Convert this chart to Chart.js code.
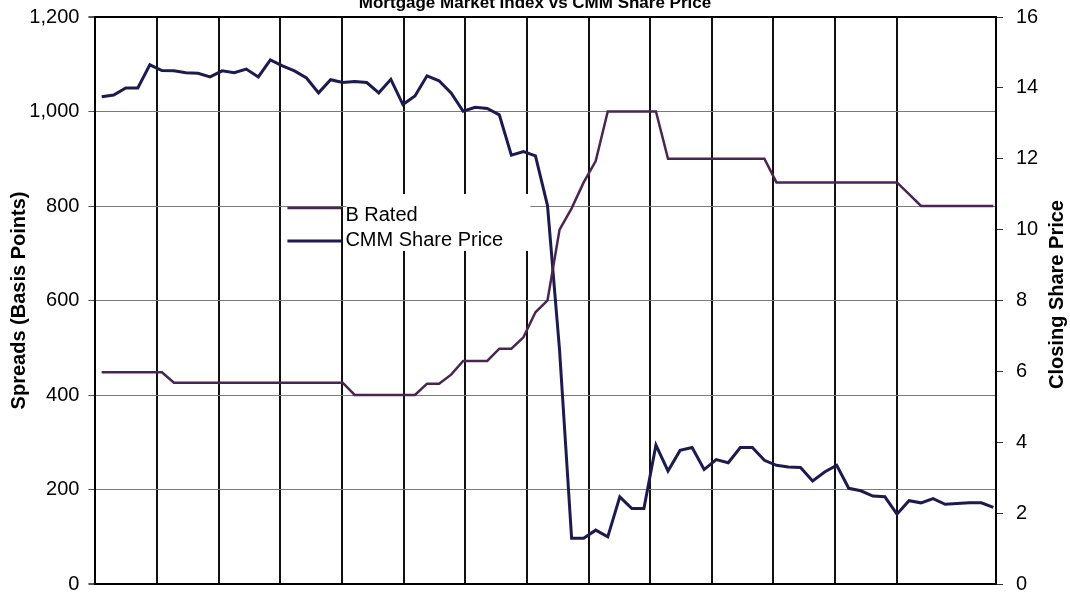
<!DOCTYPE html>
<html>
<head>
<meta charset="utf-8">
<title>B Rated spreads vs CMM share price</title>
<script src="https://cdn.jsdelivr.net/npm/chart.js@4.4.1/dist/chart.umd.min.js"></script>
<style>
  html, body { margin: 0; padding: 0; background: #fff; overflow: hidden; }
  /* the original scan cuts the chart title in half, so the canvas starts above the page */
  #wrap { position: absolute; left: 0; top: -8px; width: 1070px; height: 630px; }
</style>
</head>
<body>
<div id="wrap"><canvas id="spread-chart"></canvas></div>
<script>
document.addEventListener('DOMContentLoaded', () => {

    const chartTitle = 'Mortgage Market Index vs CMM Share Price';
    const seriesNames = ['B Rated', 'CMM Share Price'];
    const axisTitles = ['Spreads (Basis Points)', 'Closing Share Price'];

    // weekly B rated spreads in basis points (left axis)
    const bRatedSpread = [
        448, 448, 448, 448, 448, 448,
        426, 426, 426, 426, 426, 426, 426, 426, 426, 426, 426, 426, 426, 426, 426,
        400, 400, 400, 400, 400, 400,
        424, 424, 443, 472, 472, 472, 498, 498, 522, 575, 600,
        750, 795, 850, 895,
        1000, 1000, 1000, 1000, 1000,
        900, 900, 900, 900, 900, 900, 900, 900, 900,
        850, 850, 850, 850, 850, 850, 850, 850, 850, 850, 850,
        825,
        800, 800, 800, 800, 800, 800, 800
    ];

    // weekly CMM closing share price (right axis)
    const cmmSharePrice = [
        13.75, 13.80, 14.00, 14.00, 14.65, 14.49, 14.48, 14.43, 14.41, 14.31,
        14.48, 14.43, 14.53, 14.31, 14.79, 14.62, 14.48, 14.28, 13.86, 14.23,
        14.15, 14.18, 14.15, 13.86, 14.24, 13.53, 13.77, 14.34, 14.20, 13.86,
        13.34, 13.45, 13.42, 13.24, 12.10, 12.20, 12.08, 10.68, 6.60, 1.29,
        1.29, 1.52, 1.33, 2.46, 2.13, 2.13, 3.92, 3.19, 3.77, 3.85,
        3.23, 3.51, 3.42, 3.85, 3.85, 3.49, 3.35, 3.30, 3.29, 2.91,
        3.16, 3.35, 2.70, 2.63, 2.48, 2.46, 1.97, 2.35, 2.29, 2.41,
        2.25, 2.27, 2.29, 2.29, 2.16
    ];

    const weekNumbers = cmmSharePrice.map((_, i) => i);
    const spreadTicks = [0, 200, 400, 600, 800, 1000, 1200];
    const priceTicks = [0, 2, 4, 6, 8, 10, 12, 14, 16];

    const fontFamily = '"Liberation Sans", Arial, Helvetica, sans-serif';
    Chart.defaults.font.family = fontFamily;
    Chart.defaults.color = '#000';

    // --- legend sits inside the plot and the right title reads bottom-to-top, so draw both by hand ---
    const chartExtras = {
        id: 'chartExtras',
        afterDraw(chart) {
            const { ctx, chartArea: area } = chart;
            ctx.save();
            ctx.fillStyle = '#fff';
            ctx.fillRect(area.left + 251, area.top + 177, 184, 57);
            const rows = [
                { lineY: area.top + 191, textY: area.top + 198 },
                { lineY: area.top + 224, textY: area.top + 223 }
            ];
            chart.data.datasets.forEach((ds, i) => {
                ctx.strokeStyle = ds.borderColor;
                ctx.lineWidth = ds.borderWidth;
                ctx.beginPath();
                ctx.moveTo(area.left + 192, rows[i].lineY);
                ctx.lineTo(area.left + 246, rows[i].lineY);
                ctx.stroke();
                ctx.fillStyle = '#000';
                ctx.font = `20px ${fontFamily}`;
                ctx.textAlign = 'left';
                ctx.textBaseline = 'middle';
                ctx.fillText(ds.label, area.left + 250, rows[i].textY);
            });
            ctx.translate(area.right + 61, (area.top + area.bottom) / 2 - 6);
            ctx.rotate(-Math.PI / 2);
            ctx.font = `bold 20px ${fontFamily}`;
            ctx.textAlign = 'center';
            ctx.fillText(axisTitles[1], 0, 0);
            ctx.restore();
        }
    };

    const edgeValue = v => v === spreadTicks[0] || v === spreadTicks[spreadTicks.length - 1];

    new Chart(document.getElementById('spread-chart'), {
        type: 'line',
        data: {
            labels: weekNumbers,
            datasets: [
                { label: seriesNames[0], data: bRatedSpread, yAxisID: 'y', xAxisID: 'x',
                  borderColor: '#4b2552', borderWidth: 2.5, pointRadius: 0, tension: 0, fill: false },
                { label: seriesNames[1], data: cmmSharePrice, yAxisID: 'y1', xAxisID: 'x',
                  borderColor: '#1c1b50', borderWidth: 3, pointRadius: 0, tension: 0, fill: false }
            ]
        },
        options: {
            responsive: true,
            maintainAspectRatio: false,
            animation: false,
            layout: { padding: { left: 0, right: 0, top: 0, bottom: 38 } },
            plugins: {
                legend: { display: false },
                tooltip: { enabled: false },
                title: {
                    display: true,
                    text: chartTitle,
                    color: '#000',
                    font: { size: 17, weight: 'bold' },
                    padding: { top: 0, bottom: 3.6 }
                }
            },
            scales: {
                x: {
                    type: 'linear',
                    min: -0.52,
                    max: 74.22,
                    display: false
                },
                // heavy vertical rules of the original, spaced a little wider than five weeks
                x2: {
                    type: 'linear',
                    position: 'bottom',
                    min: 0,
                    max: 14.61,
                    ticks: { display: false, stepSize: 1 },
                    grid: { color: '#111', lineWidth: 2, drawTicks: false },
                    border: { display: false },
                    afterFit: s => { s.height = 0; }
                },
                y: {
                    position: 'left',
                    min: spreadTicks[0],
                    max: spreadTicks[spreadTicks.length - 1],
                    ticks: {
                        stepSize: spreadTicks[1] - spreadTicks[0],
                        font: { size: 20 },
                        color: '#000',
                        padding: 9,
                        callback: v => v.toLocaleString('en-US')
                    },
                    grid: {
                        color: c => edgeValue(c.tick.value) ? '#000' : '#7a7a7a',
                        lineWidth: c => edgeValue(c.tick.value) ? 2 : 1,
                        tickColor: '#555',
                        tickLength: 7
                    },
                    border: { display: true, color: '#000', width: 2 },
                    title: {
                        display: true,
                        text: axisTitles[0],
                        font: { size: 20, weight: 'bold' },
                        color: '#000',
                        padding: { top: 7, bottom: 0 }
                    },
                    afterFit: s => { s.width = 95.4; }
                },
                y1: {
                    position: 'right',
                    min: priceTicks[0],
                    max: priceTicks[priceTicks.length - 1],
                    ticks: {
                        stepSize: priceTicks[1] - priceTicks[0],
                        font: { size: 20 },
                        color: '#000',
                        padding: 13
                    },
                    grid: { drawOnChartArea: false, tickColor: '#333', tickLength: 7 },
                    border: { display: true, color: '#000', width: 2 },
                    afterFit: s => { s.width = 74; }
                }
            }
        },
        plugins: [chartExtras]
    });
});
</script>
</body>
</html>
